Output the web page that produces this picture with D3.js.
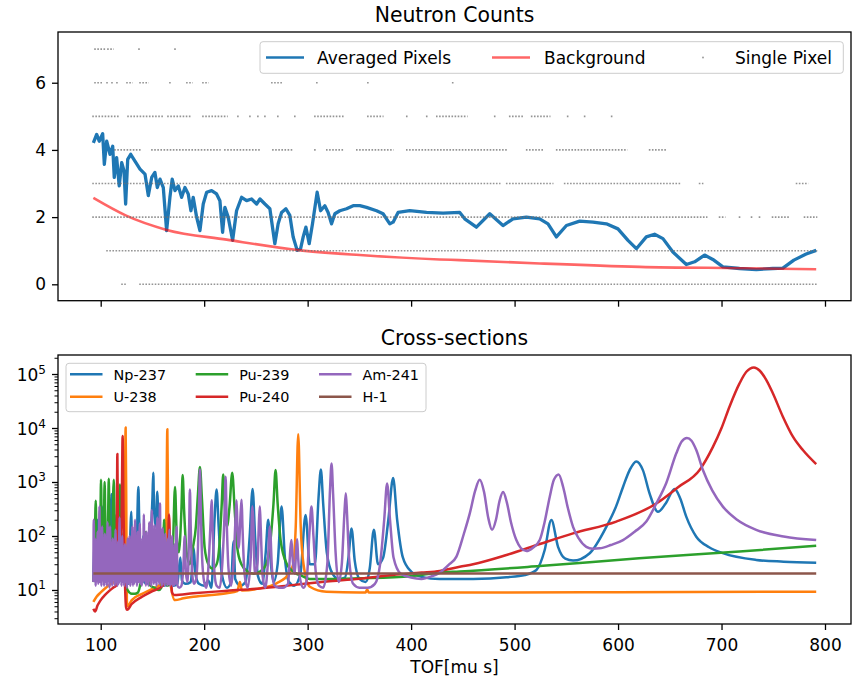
<!DOCTYPE html>
<html>
<head>
<meta charset="utf-8">
<script src="https://cdn.jsdelivr.net/npm/d3@7"></script>
<style>
body { margin: 0; background: #fff; }
svg text { font-family: "DejaVu Sans", sans-serif; fill: #000; }
</style>
</head>
<body>
<div id="chart"></div>
<script>
// ---- data (TOF in mu s) ----
var xTicks = [100, 200, 300, 400, 500, 600, 700, 800];
var countTicks = [0, 2, 4, 6];
var logTicks = [10, 100, 1000, 10000, 100000];

// averaged pixels [tof, counts]
var averagedPixels = [[92.9,4.21],[96.1,4.46],[98.6,4.26],[101.9,4.48],[103.5,3.57],[105.8,4.26],[109.0,3.87],[111.6,4.11],[113.1,3.18],[115.4,3.77],[117.9,2.93],[120.3,3.62],[122.5,3.38],[124.1,2.39],[126.1,3.72],[129.0,3.87],[133.1,3.67],[138.0,3.43],[142.8,3.28],[146.0,2.64],[149.3,3.18],[152.4,3.33],[154.7,2.88],[157.3,3.13],[160.5,2.88],[163.7,1.6],[166.9,2.59],[169.1,3.13],[171.8,2.79],[175.0,2.93],[178.2,2.59],[181.4,2.88],[184.6,2.69],[187.2,2.19],[189.4,2.59],[192.7,2.0],[195.9,1.6],[199.1,2.39],[202.4,2.74],[207.2,2.79],[212.0,2.69],[215.2,2.49],[217.8,1.55],[220.0,2.29],[223.2,2.0],[227.5,1.31],[231.3,2.19],[236.2,2.59],[241.0,2.49],[245.8,2.54],[250.7,2.39],[253.9,2.54],[258.7,2.39],[263.5,2.25],[268.3,1.21],[271.5,1.8],[274.8,2.14],[279.0,2.25],[282.8,2.05],[286.0,1.41],[289.9,1.01],[293.2,1.06],[295.7,1.41],[298.3,1.7],[301.5,1.21],[304.7,1.8],[309.2,2.74],[312.5,2.19],[316.6,2.34],[319.8,2.14],[323.1,1.8],[326.3,2.1],[331.1,2.19],[337.6,2.25],[344.0,2.34],[350.4,2.34],[356.9,2.29],[366.6,2.19],[372.9,2.1],[379.4,1.8],[382.6,1.85],[387.4,2.14],[398.7,2.19],[414.9,2.14],[430.9,2.12],[447.0,2.14],[451.8,1.95],[463.1,1.70],[476.0,2.1],[488.8,1.75],[498.5,1.95],[511.4,2.0],[524.3,1.95],[532.3,1.8],[540.4,1.41],[550.1,1.75],[562.9,1.88],[575.8,1.85],[588.7,1.8],[599.9,1.65],[609.6,1.31],[617.7,1.06],[627.3,1.41],[635.3,1.49],[643.4,1.36],[653.0,0.96],[666.0,0.59],[674.0,0.67],[683.6,0.87],[691.6,0.74],[701.3,0.52],[717.4,0.47],[733.6,0.44],[749.6,0.47],[759.3,0.48],[769.9,0.72],[781.8,0.9],[791.5,1.01]];

// fitted background [tof, counts]
var background = [[92.9,2.57],[124.1,2.05],[163.7,1.62],[221.7,1.33],[293.2,1.01],[350.4,0.87],[427.7,0.74],[447.0,0.72],[524.3,0.62],[620.9,0.52],[717.4,0.48],[791.5,0.45]];

// single pixel counts: occupied tof runs [from, to] per count level
var pixelLevels = [0, 1, 2, 3, 4, 5, 6, 7];
var pixelRuns = [
  [[120.6,120.6],[123.5,123.5],[138.0,791.8]],
  [[106.1,791.8]],
  [[92.6,685.6],[698.1,703.0],[717.4,717.4],[729.0,729.0],[736.7,736.7],[749.3,765.7],[780.2,791.8]],
  [[92.6,120],[123,300],[303,485.6],[492.4,536.8],[548.4,659.5],[678.8,681.7],[772.5,783.1]],
  [[113.8,138.0],[149.5,215.2],[220.0,253.9],[266.4,285.7],[307.0,307.0],[318.5,334.0],[347.5,382.3],[395.8,492.4],[511.7,527.2],[540.7,608.3],[630.5,646.9]],
  [[92.6,116.7],[126.4,160.2],[165.0,186.2],[198.8,222.0],[232.6,232.6],[244.2,244.2],[251.9,251.9],[258.7,258.7],[271.2,271.2],[287.6,287.6],[307.0,334.0],[358.2,372.6],[395.8,395.8],[415.1,415.1],[424.8,453.8],[480.8,480.8],[495.3,507.9],[516.5,533.9],[551.3,551.3],[567.7,567.7],[593.8,593.8]],
  [[94.5,101.3],[106.1,106.1],[110.9,110.9],[115.7,115.7],[125.4,130.2],[138.0,145.7],[166.9,166.9],[183.3,188.2],[198.8,203.6],[265.4,275.1],[308.9,308.9],[358.2,358.2],[440.2,440.2]],
  [[94.5,104.1],[107.0,111.9],[137.0,137.0],[171.8,171.8]]
];

// cross-sections [tof, barn]
var isotopes = ['Np-237', 'U-238', 'Pu-239', 'Pu-240', 'Am-241', 'H-1'];

var np237 = [[92.9,15],[94.6,100],[95.3,20],[97.3,200],[98,22],[100,16],[102.2,350],[103,25],[105,15],[107.6,180],[108.4,20],[110.4,600],[111.3,25],[113.5,250],[114.3,18],[118,14],[122.5,120],[123.3,15],[127,13],[129.6,280],[130.4,15],[133.6,150],[134.4,14],[135.6,300],[136.4,810],[137.2,200],[139,15],[141.2,100],[142,14],[145,13],[148,60],[150,500],[150.8,1480],[151.6,300],[153.2,150],[154.7,660],[156,80],[158,18],[161,12],[164,13],[166.5,90],[167.5,15],[170,12],[174,13],[177,40],[178.5,15],[182,13],[187,14],[190,60],[191.5,20],[195,13],[200,12],[204,15],[207,11],[210,200],[212,730],[214,150],[217,20],[222,11],[226,14],[228.5,80],[230,16],[235,12],[240,14],[244,100],[246.8,740],[249.3,90],[252,18],[256,13],[259.5,50],[261.9,200],[264,40],[267,14],[271,30],[274.8,350],[278,40],[282,14],[287,12],[293,20],[298,245],[302,30],[307,30],[310.5,500],[312.8,1700],[315,400],[318.5,50],[324,20],[330,16],[336,17],[339.5,40],[342.4,138],[345.5,35],[350,16],[356,14],[360,25],[364,130],[368,30],[373,40],[378,200],[382.6,1180],[386.5,200],[392,40],[400,22],[410,17.5],[427.7,15.9],[460,16],[492.1,17.2],[510,19],[521.1,23.5],[529.1,55],[535.5,198],[542,63],[549,38],[556.5,35],[572.6,48],[588.7,148],[598,350],[604.8,810],[611.2,1660],[617.6,2400],[624,1660],[630.5,610],[638.6,280],[646,400],[654.7,740],[660,500],[665.9,228],[675.6,97],[688,62],[701.3,48],[733.5,36],[760,33.5],[791.5,32]];

var u238 = [[92.9,6],[96,7.5],[100,9],[105,11],[110,13],[115,15],[119,18],[122,30],[123.3,300],[124.1,10200],[124.8,200],[125.3,6],[126,5],[130,6.5],[140,8.5],[150,10.5],[158,13],[162,20],[163.5,300],[164.4,9500],[165.2,200],[167,15],[171.8,6.5],[180,7],[189.5,7.5],[221.7,8.7],[232,9.5],[234.5,14],[236.5,9.8],[253.8,10.7],[269.9,13.3],[282,20],[286,30],[288.5,150],[290.9,7700],[293.3,150],[296,30],[302.1,11.5],[318.2,9.3],[350,9.0],[356,9.0],[357.5,10.2],[359,9.0],[447,9.0],[600,9.1],[791.5,9.3]];

var pu239 = [[92.9,14],[94.3,70],[95.2,450],[96,60],[97.5,20],[99.6,120],[100.3,1100],[101,100],[102.5,30],[103.2,200],[103.8,1000],[104.5,150],[106,30],[107.2,250],[107.8,1150],[108.5,150],[110.5,25],[112.6,1100],[113.4,200],[115.5,25],[117.8,150],[118.6,900],[119.4,100],[122,20],[126,10],[130,8.5],[133,8.5],[136,9],[138,12],[141,30],[142.8,120],[144.5,25],[148,12],[152,11],[156,10],[158.5,11],[160.5,50],[161.3,200],[162,40],[164,12],[168,14],[170,80],[171.8,810],[173.5,100],[175.5,50],[178,300],[179.2,1350],[180.6,300],[183,50],[186,30],[189,60],[192,150],[194,600],[195.9,1900],[197.8,500],[200.5,60],[204,30],[208,25],[212,30],[215,80],[217,400],[218.4,1380],[219.8,400],[222,150],[224.5,350],[227.1,1480],[229.5,300],[232,60],[236,30],[242,22],[248,20],[254,22],[260,30],[264,80],[267,400],[269,1660],[271,400],[274,80],[280,30],[286,22],[295,18],[302,16],[320,16],[350,16.5],[400,18],[427.7,21],[447,22],[524.3,27.8],[620.3,38.6],[717.4,51.6],[791.5,66]];

var pu240 = [[92.9,4.5],[94.5,4.0],[97,5.2],[100,6.5],[104,8.0],[108,9.5],[112,11],[114.8,12],[115.6,200],[116.1,3300],[116.6,200],[117.5,14],[120.3,300],[121.2,7100],[122.0,300],[123.2,20],[124.5,4.8],[125.5,4.3],[130,5.5],[140,7.5],[150,9.5],[160,12],[164.5,20],[166,250],[167.5,30],[169,9],[171,8.1],[189.5,8.7],[220,9.6],[253.8,10.7],[285,12.3],[318.2,14.3],[350,16.2],[382.6,19],[410,21],[427.7,22.6],[447,27],[459.9,30],[492.1,44.5],[524.3,71],[556.5,112],[598.3,185],[637,400],[658,800],[678.8,1670],[691.7,4470],[700,10000],[707.8,25100],[717.4,67000],[724,110000],[731.3,132000],[737,115000],[743.2,78000],[749.6,44000],[759.3,16200],[769,6900],[778.6,3900],[791.5,2140]];

var am241 = [[92.9,14],[93.3,200],[93.8,20],[94.5,90],[95.1,12],[95.8,60],[96.4,15],[97.0,120],[97.6,13],[98.3,45],[98.8,350],[99.4,14],[100.1,70],[100.7,12],[101.4,150],[102.0,16],[102.7,50],[103.3,12],[104.0,110],[104.6,14],[105.3,40],[105.9,12],[106.6,180],[107.2,15],[107.9,60],[108.5,11],[109.0,150],[109.7,14],[110.4,45],[111.0,12],[111.7,90],[112.3,16],[113.0,35],[113.6,12],[114.3,130],[114.9,14],[115.6,50],[116.2,12],[116.9,80],[117.5,13],[118.2,220],[118.8,15],[119.5,40],[120.1,12],[120.8,100],[121.4,14],[122.1,35],[122.7,12],[123.4,70],[124.0,14],[124.7,40],[125.3,11],[126.0,90],[126.6,13],[127.3,30],[128.0,100],[128.6,12],[129.3,60],[129.9,14],[130.6,150],[131.2,12],[131.9,45],[132.5,13],[133.2,200],[133.8,15],[134.5,55],[135.1,12],[135.8,120],[136.4,14],[137.1,35],[137.8,170],[138.4,13],[139.1,50],[139.7,12],[140.4,90],[141.0,14],[141.7,250],[142.3,15],[143.0,40],[143.6,12],[144.3,120],[144.9,14],[145.6,60],[146.2,12],[146.9,180],[147.5,15],[148.2,45],[148.8,12],[149.5,300],[150.1,16],[150.8,70],[151.4,13],[152.1,160],[152.7,14],[153.4,50],[154.0,12],[154.7,220],[155.3,15],[156.0,80],[156.6,13],[157.3,400],[157.9,16],[158.6,60],[159.2,12],[159.9,140],[160.5,14],[161.2,45],[161.8,12],[162.5,110],[163.1,14],[163.8,40],[164.4,12],[165.1,90],[165.7,13],[166.4,130],[167.0,12],[167.7,60],[168.3,13],[169.0,100],[169.6,12],[170.3,40],[170.9,12],[171.6,70],[172.2,13],[173.4,150],[174.2,12],[176,11],[178,12],[180,30],[181.2,100],[182.4,20],[184,14],[185.5,150],[186.2,730],[187,150],[188.5,20],[190,13],[192,15],[194,60],[195.2,500],[195.9,1700],[196.6,400],[198,40],[200,14],[202,11],[204,25],[206.3,200],[207.2,460],[208.1,150],[210,20],[212,12],[215,11],[217.5,30],[219.8,300],[220.7,1250],[221.6,250],[223.5,25],[226,12],[228.5,35],[230.5,250],[231.3,460],[232.1,150],[233.3,60],[235.4,300],[236.2,470],[237,150],[239,20],[242,11],[245,40],[246.6,350],[247.4,200],[249,20],[251.5,30],[253,200],[253.8,350],[254.6,150],[256.5,18],[259,11],[261.5,30],[263.5,150],[265.5,25],[268,12],[272,11],[276,11],[281,13],[283.4,60],[284.4,84],[285.4,40],[287.5,20],[289,60],[289.9,87],[290.8,40],[293,15],[296,11],[299,15],[301.8,120],[303.7,350],[305.6,100],[308,20],[311,12],[315,11],[319,30],[321.6,700],[323.1,2200],[324.6,600],[327,50],[330,14],[333,30],[335.7,300],[336.9,620],[338.1,250],[340,40],[344,13],[350,11],[358,11],[365,13],[370,30],[374,200],[376.8,940],[379.6,200],[383,40],[390,20],[400,17],[410,16],[420,18],[427.7,21],[437,30],[443.8,41.5],[451,110],[456.7,262],[462,700],[466.3,1100],[470.5,650],[474.5,220],[478.2,130],[482,200],[485.5,450],[488.9,650],[492.5,420],[496.5,180],[501.7,84],[506,60],[511.4,52.6],[517.5,60],[524.3,84],[529,180],[534,535],[538,1100],[542.6,1380],[547,800],[551.5,330],[556.5,148],[562,90],[569.3,63],[575.5,58],[582.2,59],[593,68],[604.8,84],[616,120],[627.3,185],[637,400],[646.6,960],[656.3,3400],[661.5,5600],[666.6,6500],[671,5800],[675.6,3900],[682,1670],[691,700],[701.3,350],[715,200],[733.5,130],[760,98],[791.5,84]];

var h1 = [[92.9,20.3],[791.5,20.3]];

var crossSections = [np237, u238, pu239, pu240, am241, h1];
var colors = ['#1f77b4', '#ff7f0e', '#2ca02c', '#d62728', '#9467bd', '#8c564b'];

// ---- layout ----
var W = 852, H = 679;
var left = 58, right = 851;
var top1 = 32, bot1 = 300.7;
var top2 = 355, bot2 = 624;

var svg = d3.select('#chart').append('svg').attr('width', W).attr('height', H);
svg.append('rect').attr('width', W).attr('height', H).attr('fill', '#fff');

var x = d3.scaleLinear().domain([58.73, 825.13]).range([left, right]);
var yCounts = d3.scaleLinear().domain([-0.488, 7.51]).range([bot1, top1]);
var yXs = d3.scaleLog().domain([Math.pow(10, 0.370), Math.pow(10, 5.352)]).range([bot2, top2]);

var defs = svg.append('defs');
defs.append('clipPath').attr('id', 'clipTop').append('rect')
  .attr('x', left).attr('y', top1).attr('width', right - left).attr('height', bot1 - top1);
defs.append('clipPath').attr('id', 'clipBot').append('rect')
  .attr('x', left).attr('y', top2).attr('width', right - left).attr('height', bot2 - top2);

// ---- top: neutron counts ----
var gTop = svg.append('g').attr('clip-path', 'url(#clipTop)');

var lineCounts = d3.line().x(function(d) { return x(d[0]); }).y(function(d) { return yCounts(d[1]); });

gTop.append('path').datum(averagedPixels)
  .attr('d', lineCounts)
  .attr('fill', 'none').attr('stroke', '#1f77b4').attr('stroke-width', 3.3)
  .attr('stroke-linejoin', 'round');

gTop.append('path').datum(background)
  .attr('d', lineCounts.curve(d3.curveMonotoneX))
  .attr('fill', 'none').attr('stroke', 'red').attr('stroke-opacity', 0.6).attr('stroke-width', 2.6);

pixelLevels.forEach(function(level, i) {
  gTop.selectAll('.run' + level).data(pixelRuns[i]).enter().append('line')
    .attr('x1', function(d) { return x(d[0]) - 0.8; })
    .attr('x2', function(d) { return x(d[1]) + 0.8; })
    .attr('y1', yCounts(level)).attr('y2', yCounts(level))
    .attr('stroke', '#707070').attr('stroke-opacity', 0.75).attr('stroke-width', 1.6)
    .attr('stroke-dasharray', function(d) { return d[1] - d[0] > 1 ? '1.6,1.5' : null; });
});

// ---- bottom: cross-sections ----
var gBot = svg.append('g').attr('clip-path', 'url(#clipBot)');
var lineXs = d3.line().curve(d3.curveMonotoneX)
  .x(function(d) { return x(d[0]); }).y(function(d) { return yXs(d[1]); });

crossSections.forEach(function(series, i) {
  gBot.append('path').datum(series)
    .attr('d', lineXs)
    .attr('fill', 'none').attr('stroke', colors[i]).attr('stroke-width', 2.5)
    .attr('stroke-linejoin', 'round');
});

// ---- axes ----
function styleAxis(g) {
  g.attr('font-family', '"DejaVu Sans", sans-serif').attr('font-size', 17);
  g.select('.domain').remove();
  g.selectAll('.tick line').attr('stroke', '#000').attr('stroke-width', 1.3);
  g.selectAll('.tick text').attr('fill', '#000');
}

svg.append('g').attr('transform', 'translate(0,' + bot1 + ')')
  .call(d3.axisBottom(x).tickValues(xTicks).tickSize(6).tickFormat(''))
  .call(styleAxis);

svg.append('g').attr('transform', 'translate(0,' + bot2 + ')')
  .call(d3.axisBottom(x).tickValues(xTicks).tickSize(6).tickPadding(9).tickFormat(d3.format('d')))
  .call(styleAxis);

svg.append('g').attr('transform', 'translate(' + left + ',0)')
  .call(d3.axisLeft(yCounts).tickValues(countTicks).tickSize(6).tickPadding(6).tickFormat(d3.format('d')))
  .call(styleAxis);

var minorTicks = [];
[1, 10, 100, 1000, 10000, 100000].forEach(function(p) {
  for (var k = 2; k <= 9; k++) minorTicks.push(k * p);
});
minorTicks = minorTicks.filter(function(v) { return v >= yXs.domain()[0] && v <= yXs.domain()[1]; });

svg.append('g').attr('transform', 'translate(' + left + ',0)')
  .call(d3.axisLeft(yXs).tickValues(minorTicks).tickSize(3.5).tickFormat(''))
  .call(styleAxis)
  .selectAll('.tick line').attr('stroke-width', 1);

var gLog = svg.append('g').attr('transform', 'translate(' + left + ',0)')
  .call(d3.axisLeft(yXs).tickValues(logTicks).tickSize(6).tickPadding(6).tickFormat(''))
  .call(styleAxis);
gLog.selectAll('.tick').append('text')
  .attr('x', -12).attr('y', 6).attr('text-anchor', 'end')
  .attr('font-size', 17)
  .each(function(d) {
    var t = d3.select(this);
    t.append('tspan').text('10');
    t.append('tspan').attr('font-size', 12).attr('dy', -7).text(Math.round(Math.log10(d)));
  });

// frames
[[top1, bot1], [top2, bot2]].forEach(function(b) {
  svg.append('rect').attr('x', left).attr('y', b[0])
    .attr('width', right - left).attr('height', b[1] - b[0])
    .attr('fill', 'none').attr('stroke', '#000').attr('stroke-width', 1.3);
});

// titles
svg.append('text').attr('x', (left + right) / 2).attr('y', 22).attr('text-anchor', 'middle')
  .attr('font-size', 20.4).text('Neutron Counts');
svg.append('text').attr('x', (left + right) / 2).attr('y', 345).attr('text-anchor', 'middle')
  .attr('font-size', 20.4).text('Cross-sections');
svg.append('text').attr('x', (left + right) / 2).attr('y', 673).attr('text-anchor', 'middle')
  .attr('font-size', 17).text('TOF[mu s]');

// ---- legends ----
var leg1 = svg.append('g');
leg1.append('rect').attr('x', 260).attr('y', 41.7).attr('width', 583.3).attr('height', 31.6)
  .attr('rx', 3).attr('fill', '#fff').attr('fill-opacity', 0.8).attr('stroke', '#cccccc');
var legTop = [
  { label: 'Averaged Pixels', x0: 266, tx: 317, kind: 'line', color: '#1f77b4', op: 1 },
  { label: 'Background', x0: 492, tx: 544, kind: 'line', color: 'red', op: 0.6 },
  { label: 'Single Pixel', x0: 686, tx: 735, kind: 'dot', color: '#707070', op: 0.75 }
];
legTop.forEach(function(e) {
  if (e.kind === 'line') {
    leg1.append('line').attr('x1', e.x0).attr('x2', e.x0 + 38).attr('y1', 57.5).attr('y2', 57.5)
      .attr('stroke', e.color).attr('stroke-opacity', e.op).attr('stroke-width', 2.6);
  } else {
    leg1.append('circle').attr('cx', e.x0 + 17).attr('cy', 57.5).attr('r', 0.9)
      .attr('fill', e.color).attr('fill-opacity', e.op);
  }
  leg1.append('text').attr('x', e.tx).attr('y', 63.5).attr('font-size', 17).text(e.label);
});

var leg2 = svg.append('g');
leg2.append('rect').attr('x', 66).attr('y', 363.3).attr('width', 360).attr('height', 48.4)
  .attr('rx', 3).attr('fill', '#fff').attr('fill-opacity', 0.8).attr('stroke', '#cccccc');
var legCols = [70, 195.7, 319];
var legRows = [374.3, 396.7];
isotopes.forEach(function(name, i) {
  var cx = legCols[Math.floor(i / 2)], cy = legRows[i % 2];
  leg2.append('line').attr('x1', cx).attr('x2', cx + 32.5).attr('y1', cy).attr('y2', cy)
    .attr('stroke', colors[i]).attr('stroke-width', 2.5);
  leg2.append('text').attr('x', cx + 43.5).attr('y', cy + 5.2).attr('font-size', 14.4).text(name);
});
</script>
</body>
</html>
